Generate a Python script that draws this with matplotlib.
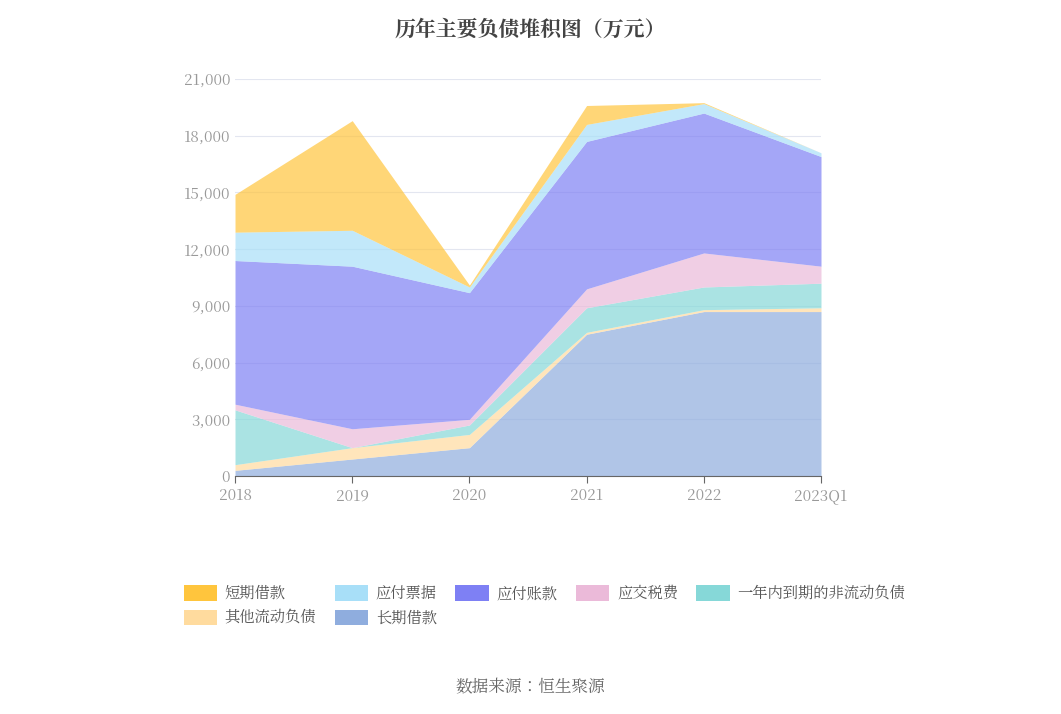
import matplotlib
matplotlib.use("Agg")
import matplotlib.pyplot as plt
from matplotlib import font_manager
from matplotlib.patches import Patch
import numpy as np

for f in font_manager.findSystemFonts():
    if "NotoSansCJK" in f.replace(" ", "") or "NotoSansSC" in f:
        try:
            font_manager.fontManager.addfont(f)
        except Exception:
            pass
cjk = [f.name for f in font_manager.fontManager.ttflist if "CJK" in f.name]
plt.rcParams["font.family"] = (["Noto Sans CJK SC"] if "Noto Sans CJK SC" in cjk else cjk[:1]) + ["DejaVu Sans"]

years = ["2018", "2019", "2020", "2021", "2022", "2023Q1"]
long_loan = [300, 900, 1500, 7500, 8700, 8700]
other_current = [300, 600, 700, 100, 100, 200]
due_within_year = [2900, 0, 500, 1300, 1200, 1300]
tax_payable = [300, 1000, 300, 1000, 1800, 900]
accounts_payable = [7600, 8600, 6700, 7800, 7400, 5800]
notes_payable = [1500, 1900, 300, 900, 500, 200]
short_loan = [2000, 5800, 100, 1000, 50, 0]

series = [
    ("长期借款", long_loan, "#8fadde"),
    ("其他流动负债", other_current, "#ffdb9e"),
    ("一年内到期的非流动负债", due_within_year, "#86d8d8"),
    ("应交税费", tax_payable, "#ebbad9"),
    ("应付账款", accounts_payable, "#7e80f4"),
    ("应付票据", notes_payable, "#a8dff8"),
    ("短期借款", short_loan, "#ffc53d"),
]

fig = plt.figure(figsize=(10.61, 7.14), dpi=100)
ax = fig.add_axes([0.2215, 0.3333, 0.5523, 0.556])
x = np.arange(len(years))
base = np.zeros(len(years))
for name, vals, color in series:
    top = base + np.array(vals)
    ax.fill_between(x, base, top, color=color, alpha=0.7, linewidth=0)
    base = top

ax.set_xlim(0, len(years) - 1)
ax.set_ylim(0, 21000)
ax.set_xticks(x)
ax.set_xticklabels(years)
ax.set_yticks(range(0, 21001, 3000))
ax.set_yticklabels([f"{v:,}" for v in range(0, 21001, 3000)])
ax.tick_params(colors="#999999", labelsize=11, length=0)
ax.tick_params(axis="x", length=5, color="#666666")
ax.grid(axis="y", color="#e3e6f0", linewidth=0.8)
ax.set_axisbelow(True)
for s in ["top", "right", "left"]:
    ax.spines[s].set_visible(False)
ax.spines["bottom"].set_color("#666666")

fig.text(0.5, 0.975, "历年主要负债堆积图（万元）", ha="center", va="top",
         fontsize=15, fontweight="bold", color="#444444")

# legend is filled column by column; order so rows read short->long
order = [6, 1, 5, 0, 4, 3, 2]
handles = [Patch(facecolor=series[i][2], edgecolor="none") for i in order]
labels = [series[i][0] for i in order]
fig.legend(handles, labels, loc="upper left", bbox_to_anchor=(0.16, 0.2), ncol=5,
           frameon=False, fontsize=11, labelcolor="#555555", handlelength=2.2,
           handleheight=1.2, columnspacing=1.2, handletextpad=0.5)

fig.text(0.5, 0.037, "数据来源：恒生聚源", ha="center", va="center", fontsize=12, color="#666666")
fig.savefig("out.png", dpi=100, facecolor="white")
